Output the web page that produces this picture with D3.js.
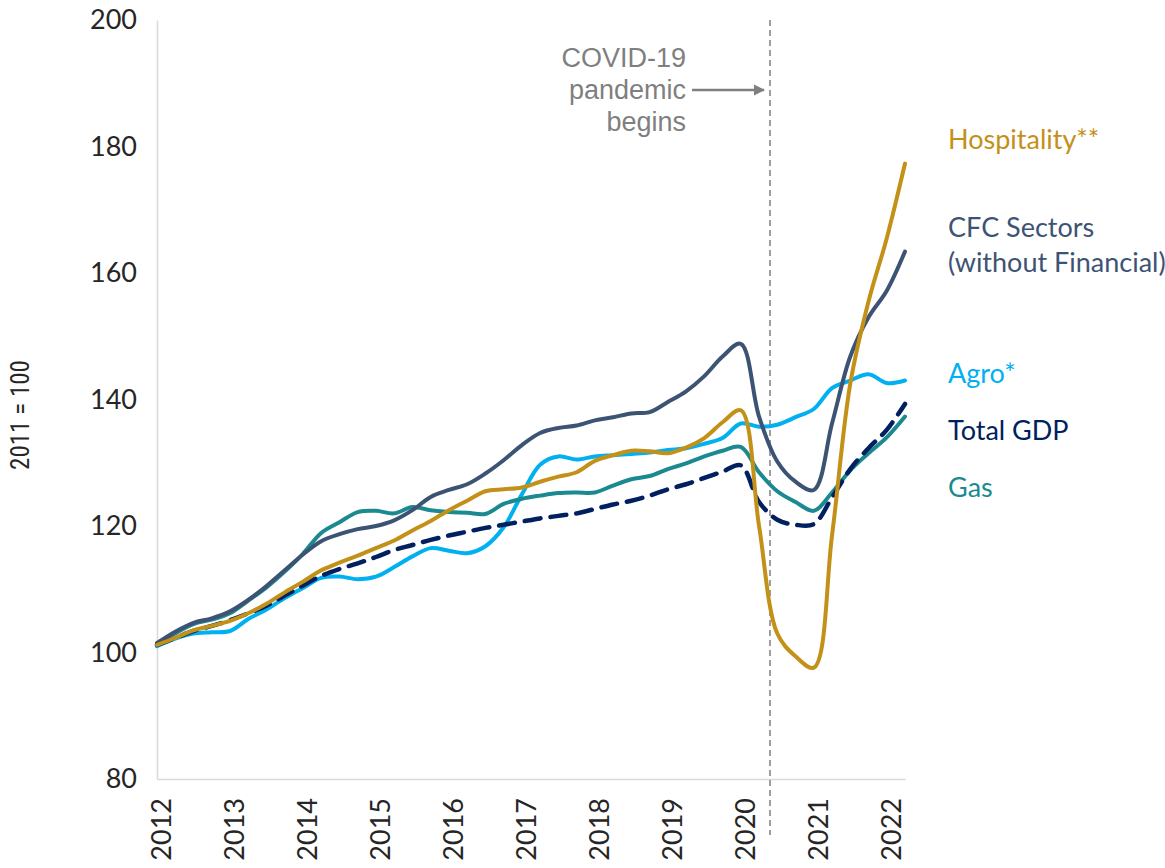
<!DOCTYPE html>
<html lang="en">
<head>
    <meta charset="utf-8">
    <title>Sector GDP index</title>
    <script src="https://d3js.org/d3.v7.min.js" charset="utf-8"></script>
    <style type="text/css">
        body { margin: 0; background: white; }
        .tick text { font-family: "Lato", "Carlito", sans-serif; font-size: 27px; fill: #262626; }
        .serieslabel { font-family: "Lato", "Carlito", sans-serif; font-size: 27px; }
        .note { font-family: "Liberation Sans", Arial, sans-serif; font-size: 27px; fill: #7f7f7f; }
        .ytitle { font-family: "Liberation Sans Narrow", "Roboto Condensed", "Liberation Sans", sans-serif; font-size: 25px; fill: #262626; }
    </style>
</head>
<body>
    <div id="main"></div>
    <script type="text/javascript">
        var width = 1165;
        var height = 868;

        // quarterly index, 2011 = 100
        var quarters = ["2012Q1","2012Q2","2012Q3","2012Q4","2013Q1","2013Q2","2013Q3","2013Q4",
                        "2014Q1","2014Q2","2014Q3","2014Q4","2015Q1","2015Q2","2015Q3","2015Q4",
                        "2016Q1","2016Q2","2016Q3","2016Q4","2017Q1","2017Q2","2017Q3","2017Q4",
                        "2018Q1","2018Q2","2018Q3","2018Q4","2019Q1","2019Q2","2019Q3","2019Q4",
                        "2020Q1","2020Q2","2020Q3","2020Q4","2021Q1","2021Q2","2021Q3","2021Q4",
                        "2022Q1","2022Q2"]

        var hospitality = [101.2,102.3,103.5,104.2,105.0,106.2,107.7,109.5,111.2,113.0,114.2,115.3,116.5,117.7,119.3,120.8,
                           122.5,124.0,125.5,125.8,126.1,127.0,127.8,128.5,130.3,131.2,131.9,131.8,131.5,132.4,133.9,136.4,
                           138.3,120.0,103.0,99.4,97.6,118.5,142.5,155.5,165.5,177.3]
        var cfc = [101.5,103.3,104.7,105.4,106.5,108.3,110.5,113.0,115.5,117.6,118.7,119.5,120.0,120.9,122.5,124.6,
                   125.7,126.6,128.3,130.4,132.8,134.7,135.5,135.9,136.7,137.2,137.8,138.0,139.6,141.3,143.7,146.8,
                   148.8,137.3,130.2,127.0,125.7,136.2,146.8,153.0,157.2,163.4]
        var agro = [101.0,102.2,103.0,103.2,103.4,105.3,106.8,108.6,110.2,111.8,112.0,111.6,112.0,113.5,115.2,116.5,
                    116.1,115.7,116.8,119.8,125.0,129.7,131.0,130.5,131.0,131.2,131.4,131.6,132.0,132.3,133.0,133.9,
                    136.2,135.7,136.0,137.2,138.5,141.8,143.0,144.0,142.6,143.0]
        var gdp = [101.2,102.3,103.4,104.2,105.1,106.2,107.4,109.0,110.6,112.1,113.2,114.1,115.1,116.2,117.0,117.8,
                   118.5,119.1,119.7,120.2,120.7,121.2,121.6,122.0,122.7,123.4,124.0,124.8,125.8,126.6,127.6,128.6,
                   129.6,123.8,121.0,120.2,120.3,124.5,129.0,132.3,135.2,139.3]
        var gas = [101.3,103.0,104.5,105.2,106.2,108.2,110.3,112.8,115.6,118.9,120.6,122.2,122.4,122.0,123.0,122.5,
                   122.2,122.1,121.9,123.5,124.3,124.8,125.2,125.3,125.3,126.4,127.4,127.9,129.0,129.9,131.0,131.9,
                   132.5,128.5,125.5,123.8,122.4,125.3,128.8,131.5,134.0,137.3]

        var yTicks = [80, 100, 120, 140, 160, 180, 200]
        var yearTicks = [2012, 2013, 2014, 2015, 2016, 2017, 2018, 2019, 2020, 2021, 2022]
        var covidStart = 2020.4

        var series = [
            {name: ["Agro*"], values: agro, color: "#00b0f0", dash: null, labelY: 144.3},
            {name: ["Gas"], values: gas, color: "#1b8a90", dash: null, labelY: 126.3},
            {name: ["CFC Sectors", "(without Financial)"], values: cfc, color: "#3d5374", dash: null, labelY: 167.3},
            {name: ["Total GDP"], values: gdp, color: "#002060", dash: "16,10", labelY: 135.3},
            {name: ["Hospitality**"], values: hospitality, color: "#c39018", dash: null, labelY: 181.2}
        ]

        function qTime(q) { return +q.slice(0, 4) + (+q.slice(5) - 1) / 4 }

        var x = d3.scaleLinear().domain([2012, 2022.25]).range([157, 905])
        var y = d3.scaleLinear().domain([80, 200]).range([779, 20])

        var svg = d3.select("div#main")
                    .append("svg")
                    .attr("width", width)
                    .attr("height", height)

        // axes
        var yAxis = svg.append("g")
            .attr("transform", "translate(157,0)")
            .call(d3.axisLeft(y).tickValues(yTicks).tickSize(0).tickPadding(20))
        yAxis.select(".domain").attr("stroke", "#d9d9d9").attr("stroke-width", 1.5)

        var xAxis = svg.append("g")
            .attr("transform", "translate(0,779)")
            .call(d3.axisBottom(x).tickValues(yearTicks).tickSize(0).tickFormat(d3.format("d")))
        xAxis.select(".domain").attr("stroke", "#d9d9d9").attr("stroke-width", 1.5)
        xAxis.selectAll(".tick text")
            .attr("text-anchor", "end")
            .attr("dy", null)
            .attr("y", 0)
            .attr("dominant-baseline", "central")
            .attr("transform", "translate(3,19) rotate(-90)")

        svg.append("text")
            .attr("class", "ytitle")
            .attr("text-anchor", "middle")
            .attr("dominant-baseline", "central")
            .attr("transform", "translate(20,415) rotate(-90)")
            .text("2011 = 100")

        // covid marker
        var cx = x(covidStart)
        svg.append("line")
            .attr("x1", cx).attr("x2", cx)
            .attr("y1", 20).attr("y2", 835)
            .attr("stroke", "#7f7f7f")
            .attr("stroke-width", 1.5)
            .attr("stroke-dasharray", "6,4")

        svg.append("defs").append("marker")
            .attr("id", "arrow")
            .attr("viewBox", "0 0 10 10")
            .attr("refX", 9).attr("refY", 5)
            .attr("markerWidth", 4.5).attr("markerHeight", 4.5)
            .attr("orient", "auto")
            .append("path")
            .attr("d", "M0,0 L10,5 L0,10 z")
            .attr("fill", "#7f7f7f")

        svg.append("line")
            .attr("x1", cx - 78).attr("x2", cx - 6)
            .attr("y1", 90).attr("y2", 90)
            .attr("stroke", "#7f7f7f")
            .attr("stroke-width", 2.5)
            .attr("marker-end", "url(#arrow)")

        var note = svg.append("text").attr("class", "note").attr("text-anchor", "end")
        ;["COVID-19", "pandemic", "begins"].forEach(function(t, i){
            note.append("tspan").attr("x", cx - 84).attr("y", 67 + i * 32).text(t)
        })

        // lines
        var line = d3.line()
            .x(function(d, i){ return x(qTime(quarters[i])) })
            .y(function(d){ return y(d) })
            .curve(d3.curveCatmullRom.alpha(0.5))

        svg.append("g").selectAll("path")
            .data(series)
            .enter()
            .append("path")
            .attr("d", function(d){ return line(d.values) })
            .attr("fill", "none")
            .attr("stroke", function(d){ return d.color })
            .attr("stroke-width", function(d){ return d.dash ? 4.5 : 4 })
            .attr("stroke-linecap", "round")
            .attr("stroke-linejoin", "round")
            .attr("stroke-dasharray", function(d){ return d.dash })

        // series labels
        svg.append("g").selectAll("text")
            .data(series)
            .enter()
            .append("text")
            .attr("class", "serieslabel")
            .attr("fill", function(d){ return d.color })
            .each(function(d){
                var t = d3.select(this)
                d.name.forEach(function(n, i){
                    t.append("tspan")
                        .attr("x", 948)
                        .attr("y", y(d.labelY) + i * 35)
                        .attr("dominant-baseline", "central")
                        .text(n)
                })
            })
    </script>
</body>
</html>
